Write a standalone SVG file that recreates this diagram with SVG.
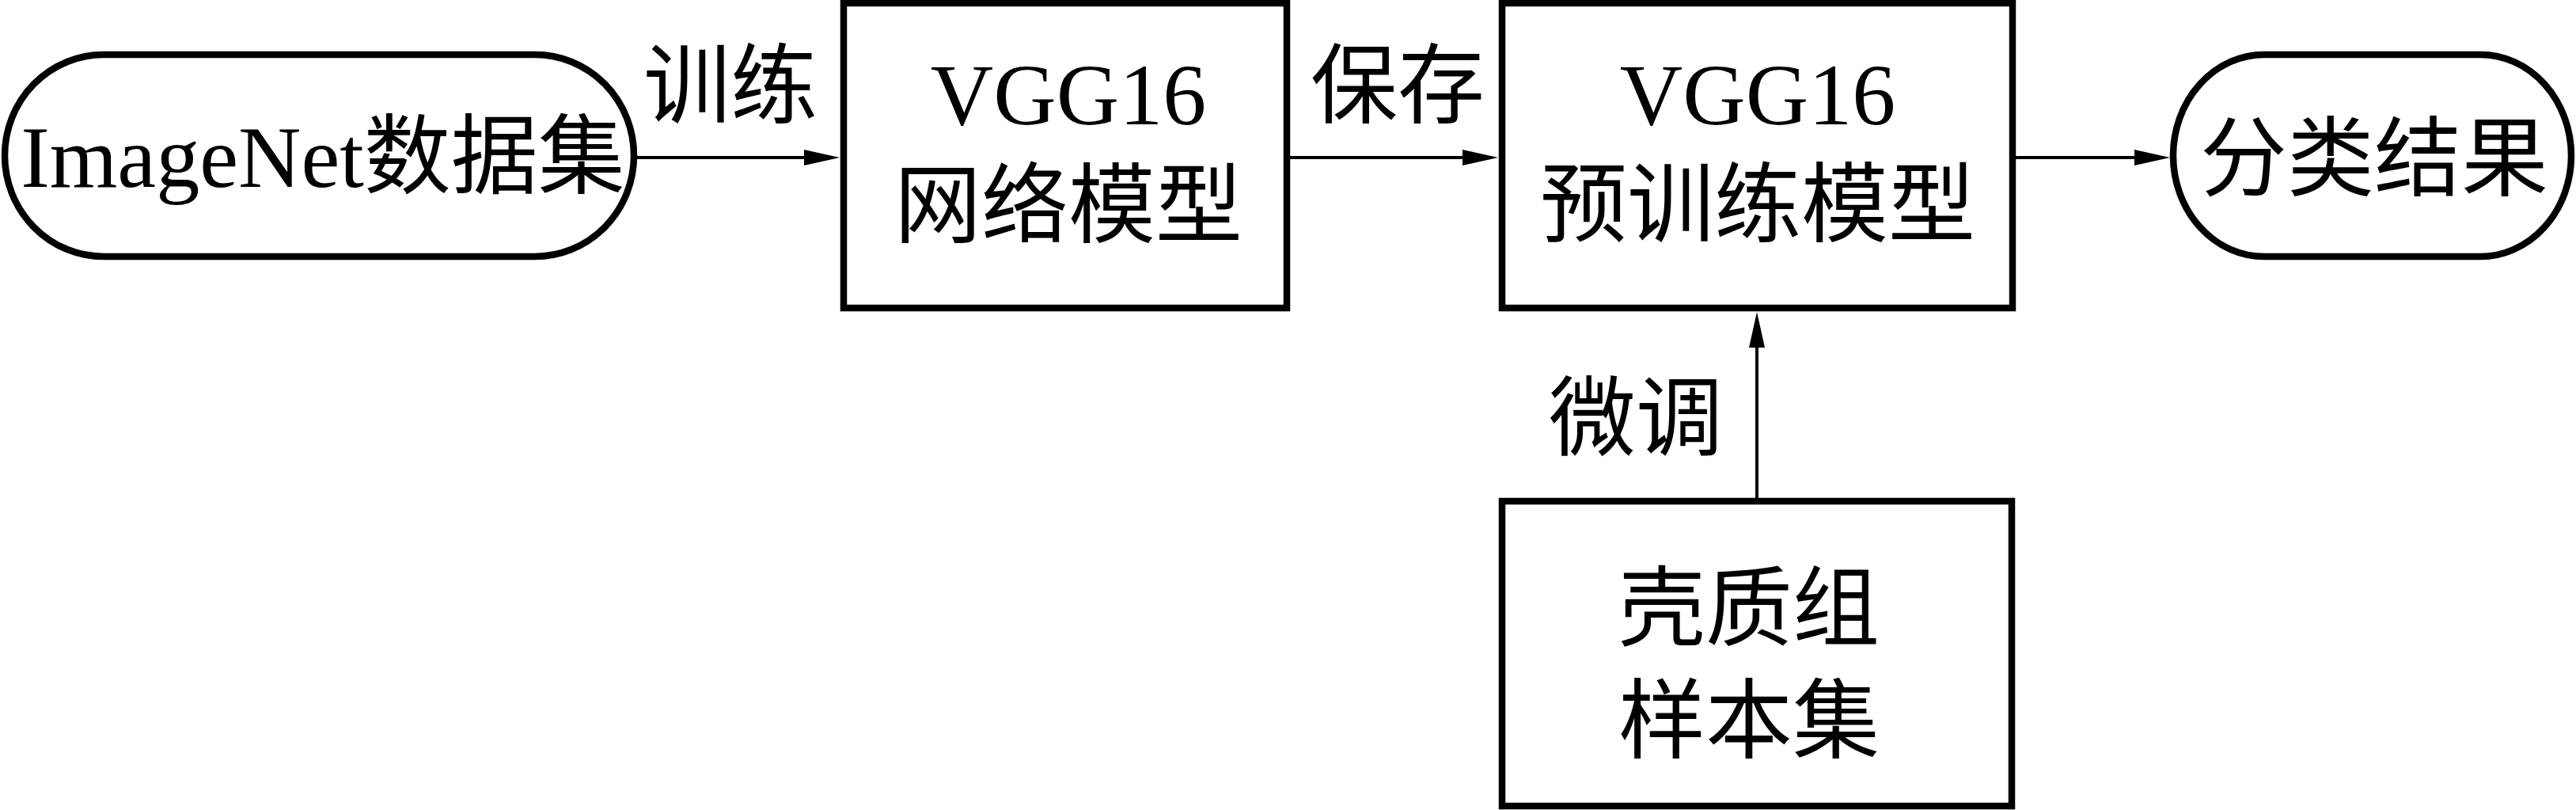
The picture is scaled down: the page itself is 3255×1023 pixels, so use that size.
<svg xmlns="http://www.w3.org/2000/svg" width="3255" height="1023" viewBox="0 0 3255 1023">
<style>
.node{fill:#fff;stroke:#000;stroke-width:8.5}
.edge{fill:none;stroke:#000;stroke-width:4}
.t{font-family:"Liberation Serif","Noto Sans CJK SC",serif;font-size:110px;fill:#000;text-anchor:middle}
</style>
<defs>
<marker id="ah" markerUnits="userSpaceOnUse" markerWidth="46" markerHeight="22" viewBox="0 0 46 22" refX="0" refY="11" orient="auto">
<path d="M0,1 L45,11 L0,21 Z" fill="#000"/>
</marker>
</defs>
<rect width="3255" height="1023" fill="#fff"/>
<g id="connectors">
<line class="edge" x1="805" y1="199" x2="1016" y2="199" marker-end="url(#ah)"/>
<line class="edge" x1="1630" y1="199" x2="1848" y2="199" marker-end="url(#ah)"/>
<line class="edge" x1="2547" y1="199" x2="2697" y2="199" marker-end="url(#ah)"/>
<line class="edge" x1="2220" y1="629" x2="2220" y2="439" marker-end="url(#ah)"/>
<text class="t" x="923" y="147">训练</text>
<text class="t" x="1766" y="147">保存</text>
<text class="t" x="2067" y="567">微调</text>
</g>
<g id="imagenet">
<path class="node" d="M131,69 H676 A125,127.5 0 0 1 676,324 H131 A125,127.5 0 0 1 131,69 Z"/>
<text class="t" x="408" y="236">ImageNet数据集</text>
</g>
<g id="vgg16">
<rect class="node" x="1066" y="4" width="560" height="385"/>
<text class="t" x="1350" y="157">VGG16</text>
<text class="t" x="1350" y="298">网络模型</text>
</g>
<g id="vgg16-pretrained">
<rect class="node" x="1898" y="4" width="645" height="385"/>
<text class="t" x="2221" y="157">VGG16</text>
<text class="t" x="2221" y="297">预训练模型</text>
</g>
<g id="result">
<path class="node" d="M2861,69 H3134 A115,127.5 0 0 1 3134,324 H2861 A115,127.5 0 0 1 2861,69 Z"/>
<text class="t" x="3000" y="239">分类结果</text>
</g>
<g id="samples">
<rect class="node" x="1898" y="633" width="644" height="385"/>
<text class="t" x="2210" y="807">壳质组</text>
<text class="t" x="2210" y="949">样本集</text>
</g>
</svg>
